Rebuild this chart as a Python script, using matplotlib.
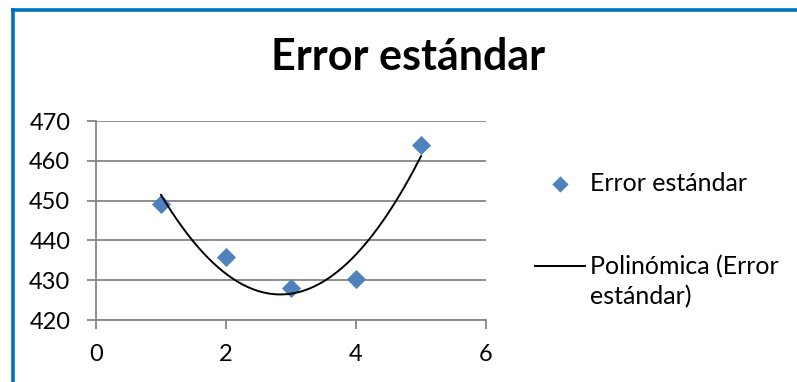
import numpy as np
import matplotlib.pyplot as plt
from matplotlib.lines import Line2D

# Error estándar por número de grupos
x_vals = [1, 2, 3, 4, 5]
error_std = [449.1, 435.8, 428.1, 430.3, 464.0]

x_ticks = [0, 2, 4, 6]
y_ticks = [420, 430, 440, 450, 460, 470]

title = "Error estándar"
series_label = "Error estándar"
trend_label = "Polinómica (Error\nestándar)"

plt.rcParams['font.family'] = ['Lato', 'DejaVu Sans']

W, H = 797, 382
fig = plt.figure(figsize=(W / 100, H / 100), dpi=100)

# blue chart frame (only top and left edges visible)
frame = '#0070C0'
fig.add_artist(Line2D([12.5 / W, 12.5 / W], [0, 1 - 8 / H], color=frame, lw=2.6,
                      transform=fig.transFigure, solid_capstyle='butt'))
fig.add_artist(Line2D([11 / W, 1], [1 - 9.5 / H, 1 - 9.5 / H], color=frame, lw=2.6,
                      transform=fig.transFigure, solid_capstyle='butt'))

ax = fig.add_axes([96 / W, 1 - 320 / H, 390 / W, 199 / H])

grey = '#868686'
ax.scatter(x_vals, error_std, marker='D', s=95, color='#4F81BD', zorder=3,
           linewidths=0, label=series_label)

# quadratic trend line
coef = np.polyfit(x_vals, error_std, 2)
xs = np.linspace(min(x_vals), max(x_vals), 200)
ax.plot(xs, np.polyval(coef, xs), color='black', lw=1.4, zorder=4, label=trend_label)

ax.set_xlim(0, 6)
ax.set_ylim(420, 470)
ax.set_xticks(x_ticks)
ax.set_yticks(y_ticks)
ax.yaxis.grid(True, color=grey, lw=1.3)
ax.set_axisbelow(True)
for s in ['top', 'right']:
    ax.spines[s].set_visible(False)
for s in ['left', 'bottom']:
    ax.spines[s].set_color(grey)
    ax.spines[s].set_linewidth(1.3)
ax.tick_params(axis='both', direction='out', length=6.5, width=1.3, color=grey,
               labelsize=17, labelcolor='black')
ax.tick_params(axis='y', pad=12)
ax.tick_params(axis='x', pad=11)

fig.text(408 / W, 1 - 70 / H, title, ha='center', va='baseline',
         fontsize=31, fontweight='bold')

leg = ax.legend(loc='upper left', bbox_to_anchor=(535 / W, 1 - 172 / H),
                bbox_transform=fig.transFigure, frameon=False, fontsize=18,
                handlelength=2.0, handletextpad=0.2, labelspacing=2.4,
                borderpad=0, borderaxespad=0, markerscale=0.85)
leg.get_texts()[1].set_linespacing(1.37)
# keep the trend handle level with the first line of its label
hl = leg.get_lines()[0]
hl.set_ydata(np.asarray(hl.get_ydata()) + 12)

fig.savefig('out.png', dpi=100)
